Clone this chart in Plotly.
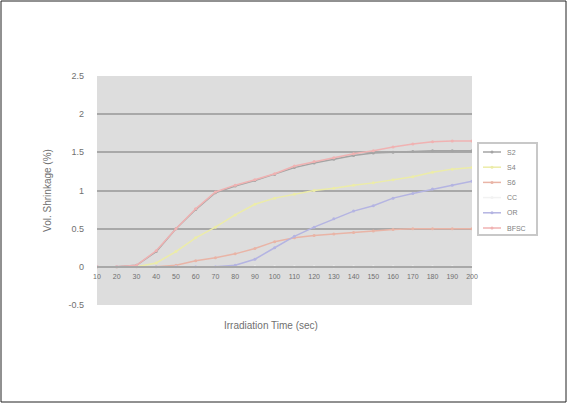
import plotly.graph_objects as go

# Irradiation time categories (seconds)
times = ["10", "20", "30", "40", "50", "60", "70", "80", "90", "100",
         "110", "120", "130", "140", "150", "160", "170", "180", "190", "200"]

# Volumetric shrinkage (%) per material
s2 = [0, 0, 0.02, 0.2, 0.5, 0.75, 0.97, 1.06, 1.13, 1.21,
      1.3, 1.36, 1.41, 1.46, 1.49, 1.5, 1.51, 1.52, 1.52, 1.52]
s4 = [0, 0, 0, 0.05, 0.2, 0.38, 0.52, 0.68, 0.82, 0.9,
      0.95, 1.0, 1.03, 1.07, 1.1, 1.14, 1.18, 1.24, 1.28, 1.3]
s6 = [0, 0, 0, 0, 0.02, 0.08, 0.12, 0.17, 0.24, 0.33,
      0.38, 0.41, 0.43, 0.45, 0.47, 0.49, 0.5, 0.5, 0.5, 0.5]
cc = [0, 0, 0, 0, 0, 0, 0, 0, 0, 0,
      0, 0, 0, 0, 0, 0, 0, 0, 0, 0]
orr = [0, 0, 0, 0, 0, 0, 0, 0.02, 0.1, 0.25,
       0.4, 0.52, 0.63, 0.73, 0.8, 0.9, 0.96, 1.02, 1.07, 1.12]
bfsc = [0, 0, 0.02, 0.21, 0.5, 0.76, 0.98, 1.07, 1.14, 1.22,
        1.32, 1.38, 1.43, 1.48, 1.52, 1.57, 1.61, 1.64, 1.65, 1.65]

series = [("S2", s2, "#a4a4a4"), ("S4", s4, "#ececa8"), ("S6", s6, "#e9b4a6"),
          ("CC", cc, "#f2f2f2"), ("OR", orr, "#b4b4e2"), ("BFSC", bfsc, "#f0b2b2")]

idx = list(range(len(times)))
fig = go.Figure()
for name, vals, col in series:
    fig.add_trace(go.Scatter(
        x=idx, y=vals, name=name, mode="lines+markers",
        line=dict(color=col, width=1.5),
        marker=dict(color=col, size=3),
        showlegend=False,
    ))

family = "Liberation Sans, Arial, sans-serif"
grey = "#707070"

# plot area in pixels: left 97, right 472, top 76, bottom 305
PL, PR, PT, PB = 97, 472, 76, 305
PW, PH = PR - PL, PB - PT


def px(x):
    return (x - PL) / PW


def py(y):
    return (PB - y) / PH


fig.update_layout(
    width=567, height=403,
    margin=dict(l=PL, r=567 - PR, t=PT, b=403 - PB),
    paper_bgcolor="white", plot_bgcolor="#dddddd",
    font=dict(family=family, size=7, color=grey), showlegend=False,
    xaxis=dict(
        range=[0, len(times) - 1], tickmode="array", tickvals=idx, ticktext=times,
        showgrid=False, zeroline=False, showline=True, linecolor="#a8a8a8", linewidth=2,
        anchor="free", position=0.5 / 3.0, ticks="", ticklabelstandoff=3,
        tickfont=dict(family=family, size=7, color=grey),
    ),
    yaxis=dict(
        range=[-0.5, 2.5], tickvals=[-0.5, 0, 0.5, 1, 1.5, 2, 2.5],
        ticktext=["-0.5", "0", "0.5", "1", "1.5", "2", "2.5"],
        showgrid=True, gridcolor="#a8a8a8", gridwidth=2, zeroline=False,
        ticks="", tickfont=dict(family=family, size=9, color=grey), ticklabelstandoff=12,
        title=dict(text="Vol. Shrinkage (%)", standoff=14,
                   font=dict(family=family, size=10, color=grey)),
    ),
)

fig.add_annotation(
    text="Irradiation Time (sec)", xref="paper", yref="paper",
    x=px(271), y=py(325), xanchor="center", yanchor="middle",
    showarrow=False, font=dict(family=family, size=10, color=grey),
)

# legend box with one key per series
fig.add_shape(type="rect", xref="paper", yref="paper",
              x0=px(478), x1=px(537), y0=py(235), y1=py(143),
              fillcolor="white", line=dict(color="#c8c8c8", width=2))
for k, (name, vals, col) in enumerate(series):
    yy = 152 + k * 15.2
    fig.add_shape(type="line", xref="paper", yref="paper",
                  x0=px(483), x1=px(501), y0=py(yy), y1=py(yy),
                  line=dict(color=col, width=1.5))
    fig.add_shape(type="circle", xref="paper", yref="paper",
                  x0=px(490.5), x1=px(493.5), y0=py(yy + 1.5), y1=py(yy - 1.5),
                  fillcolor=col, line=dict(width=0))
    fig.add_annotation(text=name, xref="paper", yref="paper",
                       x=px(505), y=py(yy), xanchor="left", yanchor="middle",
                       showarrow=False, font=dict(family=family, size=7, color="#808080"))

# outer chart border
fig.add_shape(type="rect", xref="paper", yref="paper",
              x0=px(1), x1=px(566), y0=py(402), y1=py(1),
              line=dict(color="#222222", width=1))

fig.write_html("out.html")
